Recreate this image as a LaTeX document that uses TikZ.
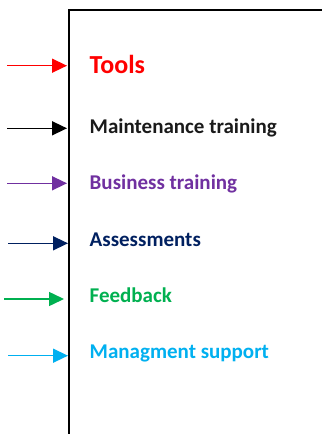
\documentclass[tikz,border=0pt]{standalone}
\usepackage{fontspec}
\setmainfont{Carlito}
\usetikzlibrary{arrows.meta}
\definecolor{cTools}{HTML}{FF0000}
\definecolor{cMaint}{HTML}{1A1A1A}
\definecolor{cBus}{HTML}{7030A0}
\definecolor{cAss}{HTML}{002060}
\definecolor{cFeed}{HTML}{00B050}
\definecolor{cMan}{HTML}{00B0F0}
\tikzset{
  lbl/.style={anchor=base west, inner sep=0pt, font=\bfseries\fontsize{21}{24}\selectfont},
  inarrow/.style={line width=1.5pt, -{Triangle[length=15pt,width=14pt]}},
}
\begin{document}
\begin{tikzpicture}[x=1pt,y=-1pt]
\useasboundingbox[fill=white] (0,0) rectangle (322,434);
\draw[line width=2pt] (68.5,434) coordinate (boxbot) -- (68.5,10) coordinate (boxtl) -- (322,10) coordinate (boxtr);
% labels
\node[lbl, text=cTools, font=\bfseries\fontsize{26}{30}\selectfont] (tools) at (89.5,73) {Tools};
\node[lbl, text=cMaint] (maint) at (89.5,133) {Maintenance training};
\node[lbl, text=cBus] (bus) at (89.5,189) {Business training};
\node[lbl, text=cAss] (ass) at (89.5,246.5) {Assessments};
\node[lbl, text=cFeed] (feed) at (89.5,302) {Feedback};
\node[lbl, text=cMan] (man) at (89.5,358.5) {Managment support};
% arrow coordinates
\coordinate (s1) at (7,65.7);   \coordinate (e1) at (67,65.7);
\coordinate (s2) at (7,128.3);  \coordinate (e2) at (67,128.3);
\coordinate (s3) at (7,183.3);  \coordinate (e3) at (67,183.3);
\coordinate (s4) at (8,243.3);  \coordinate (e4) at (68,243.3);
\coordinate (s5) at (4,299);    \coordinate (e5) at (64,299);
\coordinate (s6) at (8,355.7);  \coordinate (e6) at (68,355.7);
\draw[inarrow, cTools] (s1) -- (e1);
\draw[inarrow, black] (s2) -- (e2);
\draw[inarrow, cBus] (s3) -- (e3);
\draw[inarrow, cAss] (s4) -- (e4);
\draw[inarrow, cFeed] (s5) -- (e5);
\draw[inarrow, cMan] (s6) -- (e6);
\end{tikzpicture}
\end{document}
